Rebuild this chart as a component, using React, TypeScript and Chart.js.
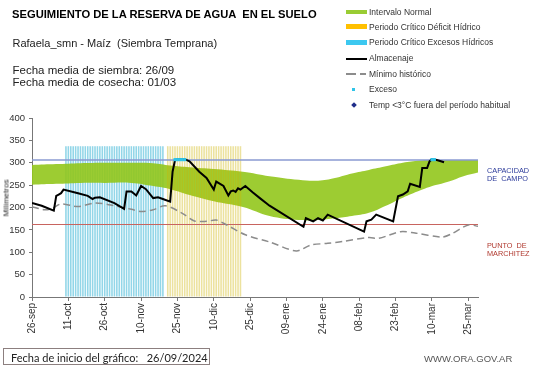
import React, { useEffect, useRef } from 'react';
import { Chart, registerables } from 'chart.js';
Chart.register(...registerables);

// ---- categories / ticks (days since 26-sep-2024) ----
const TICK_LABELS = ['26-sep', '11-oct', '26-oct', '10-nov', '25-nov', '10-dic', '25-dic', '09-ene', '24-ene', '08-feb', '23-feb', '10-mar', '25-mar'];
const TICK_STEP_DAYS = 15;
const LAST_DAY = 184;

// ---- Almacenaje (mm) ----
const ALM_DAYS = [0, 4, 9, 10, 11, 12, 13, 19, 23, 25, 26, 28, 34, 38, 39, 41, 43, 45, 47, 50, 52, 54, 57, 58, 59, 60, 63, 65, 69, 72, 75, 76, 79, 81, 82, 83, 84, 85, 86, 88, 91, 94, 98, 112, 113, 116, 118, 120, 122, 137, 138, 140, 142, 149, 151, 153, 155, 156, 160, 161, 163, 164, 165, 167, 170];
const ALM_MM = [210, 204, 193, 226, 229, 232, 240, 232, 226, 219, 222, 223, 210, 197, 236, 236, 227, 248, 241, 221, 223, 219, 213, 280, 306, 308, 308, 303, 280, 266, 240, 258, 248, 227, 236, 238, 235, 243, 240, 248, 234, 221, 204, 157, 176, 169, 176, 171, 184, 146, 169, 173, 184, 169, 225, 229, 236, 253, 246, 288, 288, 303, 308, 306, 301];

// ---- Mínimo histórico (mm) ----
const MIN_DAYS = [0, 5, 8, 12, 19, 26, 33, 41, 45, 50, 55, 62, 67, 72, 76, 80, 88, 98, 109, 115, 122, 128, 139, 143, 152, 158, 169, 173, 180, 184];
const MIN_MM = [202, 195, 197, 208, 202, 210, 205, 196, 191, 195, 204, 187, 170, 169, 172, 162, 139, 123, 103, 116, 120, 124, 133, 131, 146, 143, 134, 141, 161, 158];

// ---- Intervalo normal (mm) ----
const NORMAL_DAYS = [0, 10, 20, 30, 41, 50, 57, 65, 75, 87, 98, 110, 118, 125, 132, 139, 146, 153, 160, 164, 172, 178, 184];
const NORMAL_UPPER = [295, 297, 299, 300, 300, 299, 294, 290, 286, 280, 270, 262, 260, 266, 276, 284, 292, 300, 305, 306, 306, 306, 306];
const NORMAL_LOWER = [251, 253, 255, 255, 255, 248, 241, 228, 214, 201, 181, 172, 172, 176, 181, 188, 204, 222, 238, 246, 258, 270, 278];

// ---- Periodos críticos (first day, last day) ----
const EXCESS_PERIOD = [14, 54];
const DEFICIT_PERIOD = [56, 86];
const PERIOD_BAR_MM = 337;

// ---- Reference levels ----
const CAPACIDAD_CAMPO = 306;
const PUNTO_MARCHITEZ = 162;

// ---- Exceso ----
const EXCESO_DAYS = [59, 60, 61, 62, 63, 165, 166];
const EXCESO_MM = [307, 307, 307, 307, 307, 307, 307];

const zip = (xs: number[], ys: number[]) => xs.map((x, i) => ({ x, y: ys[i] }));
const periodBars = (p: number[]) => {
  const out: { x: number; y: number }[] = [];
  for (let d = p[0]; d <= p[1]; d++) out.push({ x: d, y: PERIOD_BAR_MM });
  return out;
};

const FONT = '"Liberation Sans", Arial, sans-serif';

const T = ({ x, y, size, children, style }: any) => (
  <div
    style={{
      position: 'absolute',
      left: x,
      top: y - size * 0.6,
      fontSize: size,
      lineHeight: `${size * 1.2}px`,
      whiteSpace: 'pre',
      fontFamily: FONT,
      color: '#222',
      ...style,
    }}
  >
    {children}
  </div>
);

const LEG_ROWS = [11.7, 26.7, 42.5, 58.5, 74, 89.5, 105];
const LEG_TEXT = [
  'Intervalo Normal',
  'Periodo Crítico Déficit Hídrico',
  'Periodo Crítico Excesos Hídricos',
  'Almacenaje',
  'Mínimo histórico',
  'Exceso',
  'Temp <3°C fuera del período habitual',
];

export default function App() {
  const ref = useRef<HTMLCanvasElement | null>(null);
  useEffect(() => {
    if (!ref.current) return;
    const chart = new Chart(ref.current, {
      type: 'bar',
      data: {
        datasets: [
          {
            type: 'line',
            label: 'Exceso',
            data: zip(EXCESO_DAYS, EXCESO_MM),
            showLine: false,
            pointStyle: 'rect',
            pointRadius: 2.2,
            pointBackgroundColor: '#2fc4e8',
            pointBorderWidth: 0,
            order: 1,
          },
          {
            type: 'line',
            label: 'Almacenaje',
            data: zip(ALM_DAYS, ALM_MM),
            borderColor: '#000',
            borderWidth: 2,
            pointRadius: 0,
            tension: 0,
            order: 2,
          },
          {
            type: 'line',
            label: 'Mínimo histórico',
            data: zip(MIN_DAYS, MIN_MM),
            borderColor: '#8c8c8c',
            borderWidth: 1.5,
            borderDash: [7, 4],
            pointRadius: 0,
            tension: 0.3,
            order: 3,
          },
          {
            type: 'line',
            label: 'CC',
            data: zip([0, LAST_DAY], [CAPACIDAD_CAMPO, CAPACIDAD_CAMPO]),
            borderColor: '#8a9ad2',
            borderWidth: 1.5,
            pointRadius: 0,
            order: 4,
          },
          {
            type: 'line',
            label: 'PM',
            data: zip([0, LAST_DAY], [PUNTO_MARCHITEZ, PUNTO_MARCHITEZ]),
            borderColor: '#c8645f',
            borderWidth: 1.2,
            pointRadius: 0,
            order: 4,
          },
          {
            type: 'bar',
            label: 'Déficit',
            data: periodBars(DEFICIT_PERIOD),
            backgroundColor: 'rgba(205,180,0,0.38)',
            grouped: false,
            barPercentage: 0.65,
            categoryPercentage: 1,
            borderWidth: 0,
            order: 5,
          } as any,
          {
            type: 'line',
            label: 'upper',
            data: zip(NORMAL_DAYS, NORMAL_UPPER),
            borderColor: 'transparent',
            borderWidth: 0,
            pointRadius: 0,
            fill: '+1',
            backgroundColor: 'rgba(146,198,28,0.9)',
            tension: 0.4,
            order: 6,
          },
          {
            type: 'line',
            label: 'lower',
            data: zip(NORMAL_DAYS, NORMAL_LOWER),
            borderColor: 'transparent',
            borderWidth: 0,
            pointRadius: 0,
            fill: false,
            tension: 0.4,
            order: 7,
          },
          {
            type: 'bar',
            label: 'Excesos',
            data: periodBars(EXCESS_PERIOD),
            backgroundColor: '#92d6e8',
            grouped: false,
            barPercentage: 0.65,
            categoryPercentage: 1,
            borderWidth: 0,
            order: 8,
          } as any,
        ],
      },
      options: {
        animation: false,
        responsive: false,
        devicePixelRatio: 1,
        layout: { padding: { left: 0, top: 118, right: 63, bottom: 26 } },
        plugins: { legend: { display: false }, tooltip: { enabled: false }, title: { display: false } },
        scales: {
          x: {
            type: 'linear',
            min: 0,
            max: LAST_DAY,
            offset: false,
            grid: { display: true, drawOnChartArea: false, drawTicks: true, tickLength: 4, color: '#777', offset: false },
            border: { display: true, color: '#777', width: 1 },
            ticks: {
              stepSize: TICK_STEP_DAYS,
              includeBounds: false,
              autoSkip: false,
              maxRotation: 90,
              minRotation: 90,
              padding: 2,
              color: '#333',
              font: { family: FONT, size: 10 },
              callback: (v: any) => TICK_LABELS[Math.round(Number(v) / TICK_STEP_DAYS)] ?? '',
            },
            afterFit: (s: any) => {
              s.height = 45;
            },
          },
          y: {
            min: 0,
            max: 400,
            ticks: { stepSize: 50, padding: 4, color: '#333', font: { family: FONT, size: 9.5 } },
            grid: { display: true, drawOnChartArea: false, tickLength: 3, color: '#777' },
            border: { display: true, color: '#777', width: 1 },
            afterFit: (s: any) => {
              s.width = 32;
            },
          },
        },
      } as any,
    });
    return () => chart.destroy();
  }, []);

  return (
    <div style={{ position: 'absolute', left: 0, top: 0, width: 541, height: 368, background: '#fff', overflow: 'hidden' }}>
      <canvas ref={ref} width={541} height={368} style={{ position: 'absolute', left: 0, top: 0, width: 541, height: 368 }} />
      <T x={12} y={15} size={11.2} style={{ fontWeight: 'bold', color: '#000' }}>
        SEGUIMIENTO DE LA RESERVA DE AGUA  EN EL SUELO
      </T>
      <T x={12.5} y={44} size={11}>Rafaela_smn - Maíz  (Siembra Temprana)</T>
      <T x={12.5} y={70.5} size={11.5}>Fecha media de siembra: 26/09</T>
      <T x={12.5} y={83} size={11.5}>Fecha media de cosecha: 01/03</T>

      {/* legend */}
      <div style={{ position: 'absolute', left: 346, top: LEG_ROWS[0] - 2, width: 21, height: 4, background: '#99cc33' }} />
      <div style={{ position: 'absolute', left: 346, top: LEG_ROWS[1] - 2.5, width: 21, height: 5, background: '#ffc000' }} />
      <div style={{ position: 'absolute', left: 346, top: LEG_ROWS[2] - 2.5, width: 21, height: 5, background: '#3cc8f0' }} />
      <div style={{ position: 'absolute', left: 346, top: LEG_ROWS[3] - 1, width: 21, height: 2, background: '#000' }} />
      <div style={{ position: 'absolute', left: 346, top: LEG_ROWS[4] - 0.75, width: 10, height: 1.5, background: '#8c8c8c' }} />
      <div style={{ position: 'absolute', left: 360, top: LEG_ROWS[4] - 0.75, width: 6, height: 1.5, background: '#8c8c8c' }} />
      <div style={{ position: 'absolute', left: 352, top: LEG_ROWS[5] - 1.5, width: 3, height: 3, background: '#2fc4e8' }} />
      <div style={{ position: 'absolute', left: 351.5, top: LEG_ROWS[6] - 2, width: 4, height: 4, background: '#1f2d8a', transform: 'rotate(45deg)' }} />
      {LEG_TEXT.map((t, i) => (
        <T key={i} x={369} y={LEG_ROWS[i]} size={8.5} style={{ color: '#333' }}>
          {t}
        </T>
      ))}

      {/* y axis title */}
      <div
        style={{
          position: 'absolute',
          left: 6,
          top: 198,
          transform: 'translate(-50%, -50%) rotate(-90deg)',
          fontSize: 8,
          fontFamily: FONT,
          color: '#222',
          whiteSpace: 'nowrap',
          lineHeight: '9px',
        }}
      >
        Milímetros
      </div>

      {/* right annotations */}
      <T x={487} y={171} size={7.3} style={{ color: '#2b3a9a' }}>CAPACIDAD</T>
      <T x={487} y={179.5} size={7.3} style={{ color: '#2b3a9a' }}>DE  CAMPO</T>
      <T x={487} y={246} size={7.3} style={{ color: '#b0392f' }}>PUNTO  DE</T>
      <T x={487} y={254.5} size={7.3} style={{ color: '#b0392f' }}>MARCHITEZ</T>

      {/* bottom */}
      <div
        style={{
          position: 'absolute',
          left: 3,
          top: 347.5,
          width: 207,
          height: 17.5,
          border: '1px solid #8c7f7f',
          fontFamily: 'Lato, "Liberation Sans", sans-serif',
          fontSize: 11,
          lineHeight: '17.5px',
          paddingLeft: 7,
          boxSizing: 'border-box',
          whiteSpace: 'pre',
          color: '#222',
        }}
      >
        Fecha de inicio del gráfico:   26/09/2024
      </div>
      <T x={424} y={359} size={9.5} style={{ color: '#555' }}>WWW.ORA.GOV.AR</T>
    </div>
  );
}
